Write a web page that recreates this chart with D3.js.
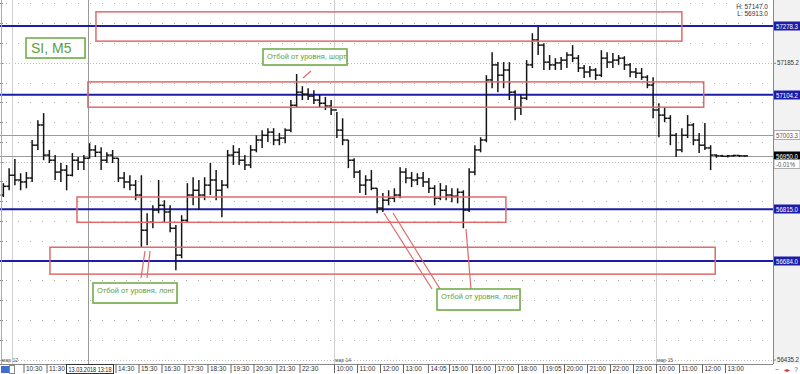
<!DOCTYPE html>
<html><head><meta charset="utf-8">
<script src="https://cdn.jsdelivr.net/npm/d3@7"></script>
<style>
body{margin:0;background:#fff;}
svg{display:block;font-family:"Liberation Sans",Arial,sans-serif;}
</style>
</head><body>
<svg id="c" width="800" height="374"></svg>
<script>
// ---- data (15-minute OHLC bars, open = previous close) ----
const firstOpen = 56851;
const highs = [
56881,56919,56942,56906,56909,56990,57040,57058,56965,56952,
56932,56927,56957,56947,56952,56982,56977,56972,56959,56965,
56944,56909,56901,56889,56901,56805,56825,56889,56838,56825,
56775,56800,56881,56896,56889,56896,56932,56914,56889,56965,
56977,56970,56952,56977,57002,57015,57020,57020,57008,57020,
57091,57157,57126,57121,57116,57104,57099,57091,
57061,57045,56990,56944,56914,56901,56914,56868,56856,56863,
56868,56921,56919,56909,56906,56909,56894,56876,56881,56876,
56868,56868,56863,56919,56977,56997,57154,57212,57187,57187,
57187,57116,57104,57192,57260,57276,57235,57205,57197,57200,
57212,57230,57205,57180,57177,57172,57217,57212,57210,57205,
57202,57185,57172,57172,57154,57149,
57083,57073,57053,57008,57020,57053,57033,57008,57033,56977,
56954,56953,56952,56953,56952,56951];
const lows = [
56846,56863,56876,56863,56868,56884,56965,56939,56932,56889,
56884,56863,56898,56914,56914,56944,56947,56914,56932,56932,
56884,56868,56863,56838,56719,56724,56767,56805,56782,56757,
56661,56691,56782,56825,56813,56838,56851,56838,56795,56868,
56927,56927,56914,56919,56959,56970,56985,56977,56977,56982,
57010,57071,57091,57091,57081,57073,57066,57053,
56995,56977,56919,56894,56856,56851,56863,56805,56808,56825,
56833,56843,56881,56871,56876,56871,56856,56825,56838,56838,
56833,56830,56767,56808,56901,56959,56985,57121,57111,57121,
57091,57040,57053,57091,57172,57205,57167,57167,57167,57167,
57172,57187,57162,57147,57149,57142,57149,57172,57172,57180,
57167,57149,57147,57142,57121,57045,
56997,57035,56977,56947,56959,56995,56977,56957,56965,56914,
56945,56947,56946,56948,56947,56948];
const closes = [
56873,56901,56889,56884,56894,56977,57028,56952,56939,56909,
56914,56901,56939,56934,56944,56965,56959,56939,56952,56944,
56894,56884,56876,56851,56762,56782,56813,56825,56808,56767,
56699,56787,56851,56863,56851,56876,56889,56863,56876,56952,
56959,56939,56927,56965,56990,57002,57010,56990,56995,57015,
57078,57111,57106,57101,57091,57083,57076,57066,
57015,56990,56939,56909,56876,56889,56868,56818,56838,56843,
56851,56909,56894,56889,56894,56884,56868,56843,56863,56851,
56848,56858,56813,56909,56965,56990,57142,57180,57154,57167,
57111,57071,57096,57180,57243,57230,57187,57180,57185,57192,
57205,57197,57172,57162,57167,57154,57197,57187,57192,57197,
57180,57162,57159,57149,57129,57066,
57053,57045,57002,56965,57002,57028,56990,56977,56970,56952,
56950,56949,56950,56951,56950,56950];
const firstSlot = -2;            // first bar: 15-min slot before 10:00 of day 1
const slotsPerDay = 56;          // 10:00 - 23:45

const levels = [57278.3, 57104.2, 56815.0, 56684.0];
const grayLevels = [57003.3, 56950.0];
const dottedLevels = [57185.2, 56935.0, 56435.2];
const zones = [ // [slotFrom, slotTo, priceTop, priceBottom]
  [14.6,116.5,57314,57240],
  [13.2,120.3,57137,57073],
  [11.3,85.9,56846,56782],
  [6.6,122.3,56719,56651]
];
const timeLabels = [
  [0,"10:30"],[0,"11:30"],[0,"14:30"],[0,"15:30"],[0,"16:30"],[0,"17:30"],[0,"18:30"],
  [0,"19:30"],[0,"20:30"],[0,"21:30"],[0,"22:30"],
  [1,"10:00"],[1,"11:00"],[1,"12:00"],[1,"13:00"],[1,"14:05"],[1,"15:00"],[1,"16:00"],
  [1,"17:00"],[1,"18:00"],[1,"19:05"],[1,"20:00"],[1,"21:00"],[1,"22:00"],[1,"23:00"],
  [2,"10:00"],[2,"11:00"],[2,"12:00"],[2,"13:00"]
];
const dayNames = ["мар 12","мар 14","мар 15"];
const crossTime = [0,"13:18"], crossDate = "13.03.2018";

// ---- layout ----
const W=800,H=374, plotR=773, plotB=364;
const svg=d3.select("#c");
const x=d3.scaleLinear().domain([0,128]).range([12,748]);
const y=d3.scaleLinear().domain([56435.2,57278.3]).range([359.5,26]);
const slotOf=(day,t)=>{const [h,m]=t.split(":").map(Number);return day*slotsPerDay+(h-10)*4+m/15;};

// right panel
svg.append("rect").attr("x",plotR).attr("y",0).attr("width",W-plotR).attr("height",plotB).attr("fill","#f2f2f2");
svg.append("rect").attr("x",0).attr("y",plotB).attr("width",W).attr("height",H-plotB).attr("fill","#fff");

// grid (horizontal dotted every 50)
const gridVals=d3.range(56435.2,57344,50);
svg.append("g").selectAll("line").data(gridVals).join("line")
  .attr("x1",6).attr("x2",plotR).attr("y1",d=>Math.round(y(d))+0.5).attr("y2",d=>Math.round(y(d))+0.5)
  .attr("stroke","#aaa").attr("stroke-dasharray","1 11");
svg.append("g").selectAll("line").data(gridVals).join("line")
  .attr("x1",0).attr("x2",3).attr("y1",d=>Math.round(y(d))+0.5).attr("y2",d=>Math.round(y(d))+0.5)
  .attr("stroke","#888");
svg.append("g").selectAll("line").data(dottedLevels).join("line")
  .attr("x1",0).attr("x2",plotR).attr("y1",d=>Math.round(y(d))+0.5).attr("y2",d=>Math.round(y(d))+0.5)
  .attr("stroke","#bbb").attr("stroke-dasharray","1 2");

// vertical lines: day separators, session start, crosshair
[0,slotsPerDay,2*slotsPerDay].forEach(s=>{
  svg.append("line").attr("x1",Math.round(x(s))+0.5).attr("x2",Math.round(x(s))+0.5).attr("y1",0).attr("y2",plotB)
    .attr("stroke","#d0d0d0");
});
const cx=Math.round(x(slotOf(crossTime[0],crossTime[1])))+0.5;
svg.append("line").attr("x1",cx).attr("x2",cx).attr("y1",0).attr("y2",plotB).attr("stroke","#999");

// gray price lines
svg.append("g").selectAll("line").data(grayLevels).join("line")
  .attr("x1",0).attr("x2",plotR).attr("y1",d=>Math.round(y(d))+0.5).attr("y2",d=>Math.round(y(d))+0.5)
  .attr("stroke","#9a9a9a");

// blue levels
svg.append("g").selectAll("line").data(levels).join("line")
  .attr("x1",0).attr("x2",plotR).attr("y1",d=>y(d)).attr("y2",d=>y(d))
  .attr("stroke","#1c1ca6").attr("stroke-width",2);

// bars
const bars=closes.map((c,i)=>({s:firstSlot+i,o:i?closes[i-1]:firstOpen,h:highs[i],l:lows[i],c}));
const gb=svg.append("g").attr("stroke","#151515").attr("stroke-width",1.5).attr("fill","none");
bars.forEach(b=>{
  const bx=x(b.s+0.5);
  gb.append("line").attr("x1",bx).attr("x2",bx).attr("y1",y(b.h)).attr("y2",y(b.l));
  gb.append("line").attr("x1",bx-2.8).attr("x2",bx).attr("y1",y(b.o)).attr("y2",y(b.o));
  gb.append("line").attr("x1",bx).attr("x2",bx+2.8).attr("y1",y(b.c)).attr("y2",y(b.c));
});

// red zones
svg.append("g").selectAll("rect").data(zones).join("rect")
  .attr("x",d=>x(d[0])).attr("y",d=>y(d[2])).attr("width",d=>x(d[1])-x(d[0])).attr("height",d=>y(d[3])-y(d[2]))
  .attr("fill","none").attr("stroke","#e06a6a").attr("stroke-width",1.5);

// red arrow strokes
const arrows=[[311,71,303,78],[141,278,145,251],[147,278,150,251],[432,289,384,213],[440,289,393,213],[471,289,466,229]];
svg.append("g").selectAll("line").data(arrows).join("line")
  .attr("x1",d=>d[0]).attr("y1",d=>d[1]).attr("x2",d=>d[2]).attr("y2",d=>d[3])
  .attr("stroke","#e06a6a").attr("stroke-width",1.2);

// green notes
const notes=[
  {x:26,y:38,w:59,h:20,t:"SI, M5",fs:14},
  {x:263,y:49,w:84,h:16,t:"Отбой от уровня, шорт",fs:7.5},
  {x:93,y:283,w:84,h:20,t:"Отбой от уровня, лонг",fs:7.5},
  {x:437,y:289,w:83,h:21,t:"Отбой от уровня, лонг",fs:7.5}
];
const gn=svg.append("g");
notes.forEach(n=>{
  gn.append("rect").attr("x",n.x+1).attr("y",n.y+1).attr("width",n.w).attr("height",n.h).attr("fill","#ddd");
  gn.append("rect").attr("x",n.x).attr("y",n.y).attr("width",n.w).attr("height",n.h).attr("fill","#fff")
    .attr("stroke","#72ad4a").attr("stroke-width",1.6);
  gn.append("text").attr("x",n.x+(n.fs>10?5:4)).attr("y",n.fs>10?n.y+15:n.y+10).attr("font-size",n.fs)
    .attr("fill","#5e9e3a").text(n.t);
});

// frame
svg.append("line").attr("x1",plotR+0.5).attr("x2",plotR+0.5).attr("y1",0).attr("y2",plotB).attr("stroke","#888");
svg.append("line").attr("x1",0).attr("x2",plotR).attr("y1",plotB+0.5).attr("y2",plotB+0.5).attr("stroke","#888");
svg.append("line").attr("x1",1.5).attr("x2",1.5).attr("y1",0).attr("y2",plotB).attr("stroke","#aaa");

// right axis (plain labels)
const ra=d3.axisRight(y).tickValues([57185.2,56435.2]).tickFormat(d3.format(".1f")).tickSize(3).tickPadding(1);
const rag=svg.append("g").attr("transform",`translate(${plotR},0)`).call(ra);
rag.select(".domain").remove();
rag.selectAll("text").attr("font-size",6.5).attr("fill","#333").attr("textLength",22).attr("lengthAdjust","spacingAndGlyphs");
rag.selectAll("line").attr("stroke","#888");

// right axis boxed labels
const boxLabels=[
  ...levels.map(v=>({v,bg:"#1c1ca6",fg:"#fff",t:v.toFixed(1)})),
  {v:57003.3,bg:"#fff",fg:"#555",t:"57003.3",stroke:"#999"},
  {v:56950.0,bg:"#000",fg:"#fff",t:"56950.0"},
  {v:56929,bg:"#fff",fg:"#555",t:"-0.01%",stroke:"#999"}
];
boxLabels.forEach(b=>{
  const yy=Math.round(y(b.v));
  svg.append("rect").attr("x",plotR+1).attr("y",yy-4.5).attr("width",W-plotR-1).attr("height",9)
    .attr("fill",b.bg).attr("stroke",b.stroke||"none").attr("stroke-width",0.8);
  svg.append("text").attr("x",plotR+3).attr("y",yy+2.5).attr("font-size",6.5).attr("fill",b.fg)
    .attr("textLength",b.t.length>6?22:19).attr("lengthAdjust","spacingAndGlyphs").text(b.t);
});

// H/L header
svg.append("text").attr("x",768).attr("y",9).attr("text-anchor","end").attr("font-size",6.5).attr("fill","#333").text("H: 57147.0");
svg.append("text").attr("x",768).attr("y",16).attr("text-anchor","end").attr("font-size",6.5).attr("fill","#333").text("L: 56913.0");

// time axis
const ta=d3.axisBottom(x).tickValues(timeLabels.map(d=>slotOf(d[0],d[1]))).tickFormat((d,i)=>timeLabels[i][1]).tickSize(9).tickPadding(0);
const tag=svg.append("g").attr("transform",`translate(0,${plotB})`).call(ta);
tag.select(".domain").remove();
tag.selectAll("line").attr("stroke","#666");
tag.selectAll("text").attr("text-anchor","start").attr("dx",2).attr("y",2).attr("dy","0.71em").attr("font-size",6.5).attr("fill","#333");

// crosshair date label
svg.append("rect").attr("x",66.5).attr("y",plotB+0.5).attr("width",47).attr("height",9).attr("fill","#fff").attr("stroke","#333");
svg.append("text").attr("x",68.5).attr("y",plotB+7.5).attr("font-size",6.5).attr("fill","#222")
  .attr("textLength",43).attr("lengthAdjust","spacingAndGlyphs").text(crossDate+"  "+crossTime[1]);

// day labels
[0,slotsPerDay,2*slotsPerDay].forEach((s,i)=>{
  svg.append("text").attr("x",i===0?2:x(s)+1).attr("y",plotB-2).attr("font-size",5).attr("fill","#555").text(dayNames[i]);
});

// corner icons
svg.append("rect").attr("x",1).attr("y",plotB+2).attr("width",8).attr("height",7).attr("fill","#3d6fd0");
svg.append("rect").attr("x",9.5).attr("y",plotB+1.5).attr("width",5).attr("height",8).attr("fill","#fff").attr("stroke","#888");
svg.append("text").attr("x",775).attr("y",372).attr("font-size",7).attr("fill","#3d6fd0").text("~");
svg.append("text").attr("x",784).attr("y",372).attr("font-size",6).attr("fill","#d03030").text("◂▸");
svg.append("text").attr("x",794).attr("y",372).attr("font-size",7).attr("fill","#3d6fd0").text("?");
</script>
</body></html>
